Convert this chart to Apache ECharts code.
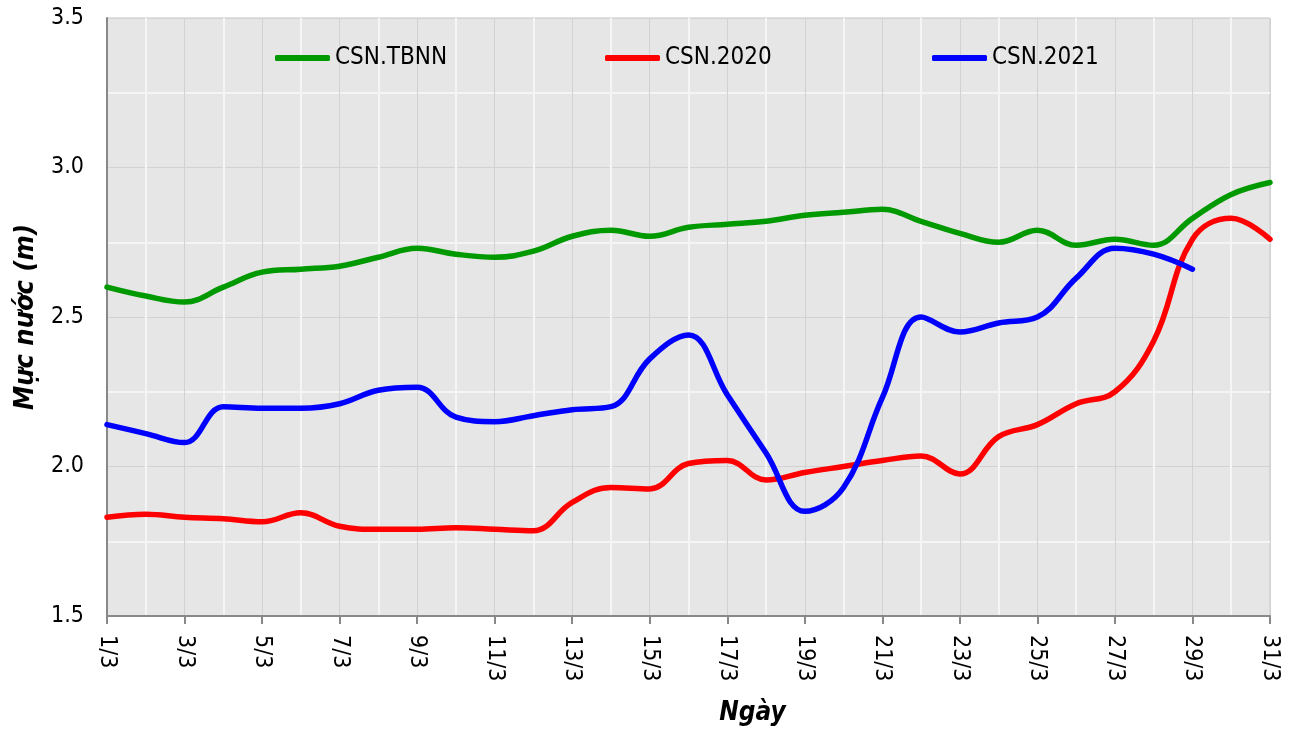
<!DOCTYPE html>
<html>
<head>
<meta charset="utf-8">
<script src="https://cdn.jsdelivr.net/npm/echarts@6/dist/echarts.min.js"></script>
<style>html,body{margin:0;padding:0;background:#fff}#c{width:1297px;height:731px}</style>
</head>
<body>
<div id="c"></div>
<script>
const days = [1,2,3,4,5,6,7,8,9,10,11,12,13,14,15,16,17,18,19,20,21,22,23,24,25,26,27,28,29,30,31];
const seriesNames = ['CSN.TBNN', 'CSN.2020', 'CSN.2021'];
const tbnn = [2.60,2.57,2.55,2.60,2.65,2.66,2.67,2.70,2.73,2.71,2.70,2.72,2.77,2.79,2.77,2.80,2.81,2.82,2.84,2.85,2.86,2.82,2.78,2.75,2.79,2.74,2.76,2.74,2.83,2.91,2.95];
const y2020 = [1.83,1.84,1.83,1.825,1.815,1.845,1.80,1.79,1.79,1.795,1.79,1.785,1.88,1.93,1.925,2.01,2.02,1.955,1.98,2.00,2.02,2.035,1.975,2.10,2.14,2.21,2.25,2.42,2.76,2.83,2.76];
const y2021 = [2.14,2.11,2.08,2.20,2.195,2.195,2.21,2.255,2.265,2.165,2.15,2.17,2.19,2.20,2.36,2.44,2.24,2.045,1.85,1.93,2.23,2.50,2.45,2.48,2.50,2.63,2.73,2.71,2.66];
const yTicks = [1.5, 2.0, 2.5, 3.0, 3.5];
const colors = ['#009900', '#ff0000', '#0000ff'];

const FONT = "'DejaVu Sans Condensed', 'DejaVu Sans', sans-serif";
const pairs = (vals) => vals.map((v, i) => [days[i], v]);

const chart = echarts.init(document.getElementById('c'));
const legendBase = (name, left) => ({
  data: [name], left: left, top: 46, padding: 0, itemWidth: 55, itemHeight: 6, icon: 'roundRect',
  textStyle: { fontFamily: FONT, fontSize: 24, color: '#000' }
});
chart.setOption({
  animation: false,
  color: colors,
  legend: [legendBase(seriesNames[0], 275), legendBase(seriesNames[1], 605), legendBase(seriesNames[2], 932)],
  grid: { left: 107, right: 27, top: 18, bottom: 115, outerBoundsMode: 'none', show: true, backgroundColor: '#e6e6e6', borderColor: '#c8c8c8', borderWidth: 1 },
  xAxis: {
    type: 'value', min: 1, max: 31, interval: 2,
    name: 'Ngày', nameLocation: 'middle', nameGap: 84,
    nameTextStyle: { fontFamily: FONT, fontSize: 26, fontWeight: 'bold', fontStyle: 'italic', color: '#000', padding: [0,0,0,128] },
    axisLine: { show: true, onZero: false, lineStyle: { color: '#888', width: 2 } },
    axisTick: { show: true, length: 8, lineStyle: { color: '#888', width: 2 } },
    axisLabel: { rotate: -90, margin: 19, fontFamily: FONT, fontSize: 23, color: '#000', formatter: v => v + '/3' },
    splitLine: { show: true, lineStyle: { color: '#d2d2d2', width: 1 } },
    minorTick: { show: false, splitNumber: 2 },
    minorSplitLine: { show: true, lineStyle: { color: '#f5f5f5', width: 2 } }
  },
  yAxis: {
    type: 'value', min: yTicks[0], max: yTicks[yTicks.length - 1], interval: 0.5,
    name: 'Mực nước (m)', nameLocation: 'middle', nameGap: 68,
    nameTextStyle: { fontFamily: FONT, fontSize: 27, fontWeight: 'bold', fontStyle: 'italic', color: '#000' },
    axisLine: { show: true, lineStyle: { color: '#888', width: 2 } },
    axisTick: { show: false },
    axisLabel: { margin: 23, fontFamily: FONT, fontSize: 23, color: '#000', formatter: v => v.toFixed(1) },
    splitLine: { show: true, lineStyle: { color: '#d2d2d2', width: 1 } },
    minorTick: { show: false, splitNumber: 2 },
    minorSplitLine: { show: true, lineStyle: { color: '#f5f5f5', width: 2 } }
  },
  series: [
    { name: seriesNames[0], type: 'line', data: pairs(tbnn), smooth: 0.4, showSymbol: false, lineStyle: { width: 5.5, color: colors[0], cap: 'round' } },
    { name: seriesNames[1], type: 'line', data: pairs(y2020), smooth: 0.4, showSymbol: false, lineStyle: { width: 5.5, color: colors[1], cap: 'round' } },
    { name: seriesNames[2], type: 'line', data: pairs(y2021), smooth: 0.4, showSymbol: false, lineStyle: { width: 5.5, color: colors[2], cap: 'round' } }
  ]
});
</script>
</body>
</html>
